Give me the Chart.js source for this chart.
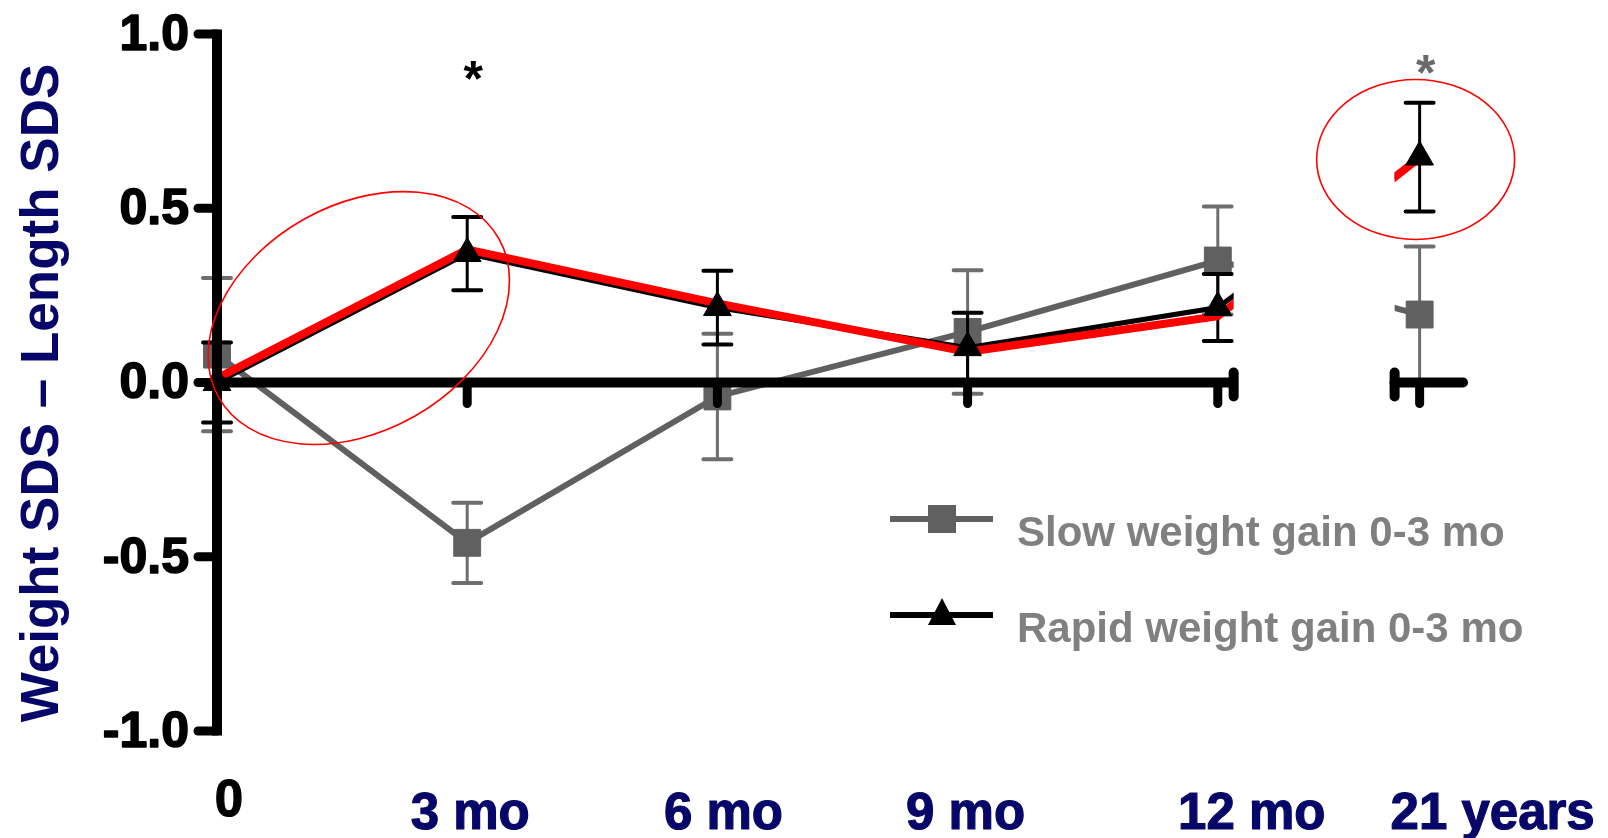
<!DOCTYPE html>
<html>
<head>
<meta charset="utf-8">
<script src="https://cdn.jsdelivr.net/npm/chart.js@4.4.1/dist/chart.umd.min.js"></script>
<style>
  html, body { margin: 0; padding: 0; background: #fff; }
  #chart { display: block; }
</style>
</head>
<body>
<canvas id="chart" width="1608" height="838"></canvas>
<script>
// datos (media +- error)
const timeLabels = ['0', '3 mo', '6 mo', '9 mo', '12 mo', '21 years'];
const timeValues = [0, 3, 6, 9, 12, 14.42]; // 21 years queda despues del corte del eje
const slowMean = [0.08, -0.46, -0.04, 0.145, 0.35, 0.195];
const slowErr = [0.22, 0.115, 0.18, 0.177, 0.155, 0.195];
const rapidMean = [0.0, 0.37, 0.215, 0.10, 0.215, 0.647];
const rapidErr = [0.115, 0.105, 0.106, 0.10, 0.096, 0.156];
const highlight = [0.012, 0.382, 0.227, 0.088, 0.19, 0.645];
const yTicks = [-1.0, -0.5, 0.0, 0.5, 1.0];

const NAVY = '#07076a';
const FONT = '"Liberation Sans", Arial, sans-serif';
const BREAK_FROM = 12.19, BREAK_TO = 14.12;

function pts(values) {
    return values.map((v, i) => ({ x: timeValues[i], y: v }));
}

// texto un poco mas grueso (la figura usa una negrita pesada)
function heavyText(ctx, txt, x, y, w) {
    ctx.lineWidth = w;
    ctx.lineJoin = 'round';
    ctx.strokeStyle = ctx.fillStyle;
    ctx.strokeText(txt, x, y);
    ctx.fillText(txt, x, y);
}

// ===============================
// Corte del eje (clip) + barras de error
// ===============================
const breakClip = {
    id: 'breakClip',
    beforeDatasetsDraw(chart) {
        const ctx = chart.ctx;
        const x = chart.scales.x;
        const a = x.getPixelForValue(BREAK_FROM);
        const b = x.getPixelForValue(BREAK_TO);
        ctx.save();
        ctx.beginPath();
        ctx.rect(0, 0, a, chart.height);
        ctx.rect(b, 0, chart.width - b, chart.height);
        ctx.clip();
    },
    afterDatasetsDraw(chart) {
        chart.ctx.restore();
    }
};

const errorBars = {
    id: 'errorBars',
    beforeDatasetDraw(chart, args) {
        const ds = chart.data.datasets[args.index];
        if (!ds.errors) return;
        const ctx = chart.ctx;
        const x = chart.scales.x, y = chart.scales.y;
        ctx.save();
        ctx.strokeStyle = ds.errorColor;
        ds.errors.forEach((e, i) => {
            const px = x.getPixelForValue(timeValues[i]);
            const top = y.getPixelForValue(ds.means[i] + e);
            const bot = y.getPixelForValue(ds.means[i] - e);
            ctx.lineWidth = 3;
            ctx.lineCap = 'butt';
            ctx.beginPath();
            ctx.moveTo(px, top);
            ctx.lineTo(px, bot);
            ctx.stroke();
            ctx.lineWidth = 4;
            ctx.lineCap = 'round';
            ctx.beginPath();
            ctx.moveTo(px - 14, top); ctx.lineTo(px + 14, top);
            ctx.moveTo(px - 14, bot); ctx.lineTo(px + 14, bot);
            ctx.stroke();
        });
        ctx.restore();
    }
};

// ===============================
// Ejes dibujados a mano (con corte)
// ===============================
const axes = {
    id: 'axes',
    afterDatasetsDraw(chart) {
        const ctx = chart.ctx;
        const x = chart.scales.x, y = chart.scales.y;
        const x0 = x.getPixelForValue(0);
        const y0 = y.getPixelForValue(0);
        ctx.save();
        ctx.strokeStyle = '#000';
        ctx.fillStyle = '#000';

        // eje y
        ctx.lineWidth = 10;
        ctx.lineCap = 'butt';
        ctx.beginPath();
        ctx.moveTo(x0, y.getPixelForValue(1) - 4.5);
        ctx.lineTo(x0, y.getPixelForValue(-1) + 4.5);
        ctx.stroke();
        ctx.font = 'bold 50px ' + FONT;
        ctx.textAlign = 'right';
        ctx.textBaseline = 'middle';
        yTicks.forEach(t => {
            const py = y.getPixelForValue(t);
            ctx.lineWidth = 9;
            ctx.lineCap = 'round';
            ctx.strokeStyle = '#000';
            ctx.beginPath();
            ctx.moveTo(x0 - 19, py);
            ctx.lineTo(x0, py);
            ctx.stroke();
            heavyText(ctx, t.toFixed(1), x0 - 28, py + 2, 1.6);
        });

        // linea cero con corte
        const a = x.getPixelForValue(BREAK_FROM);
        const b = x.getPixelForValue(BREAK_TO);
        const end = x.getPixelForValue(15);
        ctx.strokeStyle = '#000';
        ctx.lineWidth = 10;
        ctx.lineCap = 'butt';
        ctx.beginPath();
        ctx.moveTo(x0, y0); ctx.lineTo(a, y0);
        ctx.stroke();
        ctx.lineCap = 'round';
        ctx.beginPath();
        ctx.moveTo(b, y0); ctx.lineTo(end - 5, y0);
        ctx.stroke();
        // marcas del corte
        ctx.lineWidth = 10;
        ctx.beginPath();
        ctx.moveTo(a, y0 - 10); ctx.lineTo(a, y0 + 14);
        ctx.moveTo(b, y0 - 10); ctx.lineTo(b, y0 + 14);
        ctx.stroke();
        // ticks hacia abajo
        ctx.lineWidth = 9;
        timeValues.slice(1).forEach(v => {
            const px = x.getPixelForValue(v);
            ctx.beginPath();
            ctx.moveTo(px, y0);
            ctx.lineTo(px, y0 + 21);
            ctx.stroke();
        });
        ctx.restore();
    },
    afterDraw(chart) {
        const ctx = chart.ctx;
        const x = chart.scales.x;
        ctx.save();
        // etiquetas eje x
        const shift = [12, 3, 6, -2, 34, 73];
        ctx.font = 'bold 51px ' + FONT;
        ctx.textAlign = 'center';
        ctx.textBaseline = 'alphabetic';
        timeLabels.forEach((lab, i) => {
            const px = x.getPixelForValue(timeValues[i]) + shift[i];
            ctx.fillStyle = i === 0 ? '#000' : NAVY;
            heavyText(ctx, lab, px, i === 0 ? 816 : 829, 1.2);
        });

        // titulo eje y
        ctx.translate(41, 393);
        ctx.rotate(-Math.PI / 2);
        ctx.fillStyle = NAVY;
        ctx.font = 'bold 53px ' + FONT;
        ctx.textBaseline = 'middle';
        ctx.fillText('Weight SDS \u2013 Length SDS', 0, 2);
        ctx.restore();
    }
};

// ===============================
// Leyenda, asteriscos y elipses rojas
// ===============================
const extras = {
    id: 'extras',
    afterDraw(chart) {
        const ctx = chart.ctx;
        const x = chart.scales.x, y = chart.scales.y;
        ctx.save();

        // leyenda
        const items = [
            { ds: chart.data.datasets[3], y: 519 },
            { ds: chart.data.datasets[0], y: 615 }
        ];
        items.forEach(it => {
            ctx.strokeStyle = it.ds.legendLine;
            ctx.lineWidth = 6;
            ctx.lineCap = 'butt';
            ctx.beginPath();
            ctx.moveTo(890, it.y); ctx.lineTo(993, it.y);
            ctx.stroke();
            ctx.fillStyle = it.ds.pointBackgroundColor;
            ctx.beginPath();
            if (it.ds.pointStyle === 'rect') {
                ctx.rect(928, it.y - 14, 28, 28);
            } else {
                ctx.moveTo(942, it.y - 17);
                ctx.lineTo(956, it.y + 10);
                ctx.lineTo(928, it.y + 10);
                ctx.closePath();
            }
            ctx.fill();
            ctx.fillStyle = '#808080';
            ctx.font = 'bold 42px ' + FONT;
            ctx.textAlign = 'left';
            ctx.textBaseline = 'alphabetic';
            ctx.fillText(it.ds.label, 1017, it.y + 27);
        });

        // asteriscos
        ctx.font = 'bold 50px ' + FONT;
        ctx.textAlign = 'center';
        ctx.textBaseline = 'middle';
        ctx.fillStyle = '#000';
        ctx.fillText('*', x.getPixelForValue(3) + 6, 82);
        ctx.fillStyle = '#6a6a6a';
        ctx.fillText('*', x.getPixelForValue(timeValues[5]) + 6, 76);

        // elipses rojas
        ctx.strokeStyle = '#ff0000';
        ctx.lineWidth = 1.6;
        ctx.beginPath();
        ctx.ellipse(x.getPixelForValue(1.7), y.getPixelForValue(0.185), 161, 113, -29.6 * Math.PI / 180, 0, Math.PI * 2);
        ctx.stroke();
        ctx.beginPath();
        ctx.ellipse(x.getPixelForValue(timeValues[5]) - 4, y.getPixelForValue(0.64), 99, 80, 0, 0, Math.PI * 2);
        ctx.stroke();
        ctx.restore();
    }
};

new Chart(document.getElementById('chart'), {
    type: 'line',
    data: {
        datasets: [
            {
                label: 'Rapid weight gain 0-3 mo',
                data: pts(rapidMean),
                showLine: false,
                pointStyle: 'triangle',
                pointRadius: 16,
                pointBackgroundColor: '#000',
                pointBorderColor: '#000',
                pointBorderWidth: 1,
                legendLine: '#000',
                clip: false
            },
            {
                label: 'highlight',
                data: pts(highlight),
                borderColor: '#ff0000',
                borderWidth: 8,
                pointRadius: 0,
                clip: false
            },
            {
                label: 'rapid line',
                data: pts(rapidMean),
                borderColor: '#000',
                borderWidth: 5,
                pointRadius: 0,
                errors: rapidErr,
                means: rapidMean,
                errorColor: '#000',
                clip: false
            },
            {
                label: 'Slow weight gain 0-3 mo',
                data: pts(slowMean),
                borderColor: '#606060',
                borderWidth: 6,
                pointStyle: 'rect',
                pointRadius: 19,
                pointBackgroundColor: '#606060',
                pointBorderColor: '#606060',
                pointBorderWidth: 1,
                legendLine: '#606060',
                errors: slowErr,
                means: slowMean,
                errorColor: '#6e6e6e',
                clip: false
            }
        ]
    },
    options: {
        responsive: false,
        animation: false,
        devicePixelRatio: 1,
        layout: { padding: { left: 217, right: 140, top: 34, bottom: 107 } },
        scales: {
            x: { type: 'linear', min: 0, max: 15, display: false },
            y: { type: 'linear', min: -1, max: 1, display: false }
        },
        plugins: {
            legend: { display: false },
            tooltip: { enabled: false }
        }
    },
    plugins: [breakClip, errorBars, axes, extras]
});
</script>
</body>
</html>
